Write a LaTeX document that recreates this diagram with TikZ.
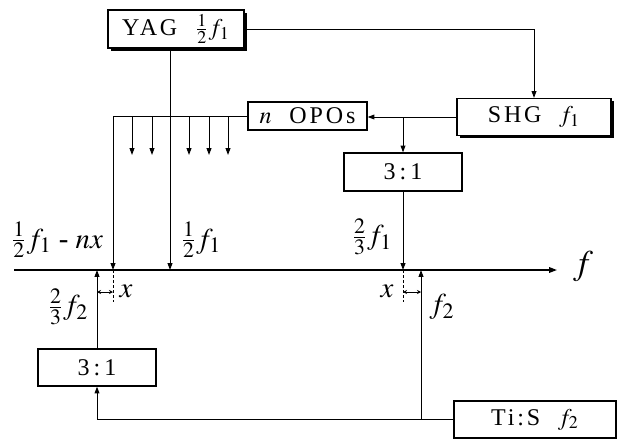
\documentclass[tikz,border=0pt]{standalone}
\usepackage{amsmath}
\usepackage{mathptmx}
\usepackage[no-math]{fontspec}
\setmainfont{Liberation Serif}
\newfontfamily\boxfont[LetterSpace=12]{Liberation Serif}
\usetikzlibrary{shadows, positioning, arrows.meta}
\tikzset{
    unit box/.style = {draw, fill=white, line width=0.6pt, inner sep=0pt, font=\boxfont\large},
    shade box/.style = {unit box, drop shadow={shadow xshift=1.3pt, shadow yshift=-1.3pt, fill=black, opacity=1}},
}
\tikzset{
    beam/.style = {draw, line width=0.5pt, -{Triangle[length=3.4pt, width=2.4pt]}},
    detune/.style = {draw, line width=0.4pt, {Stealth[length=2pt, width=2pt]}-{Stealth[length=2pt, width=2pt]}},
    marker/.style = {draw, line width=0.4pt, dash pattern=on 1.5pt off 1pt},
    label/.style = {font=\Large, inner sep=1pt},
}

\begin{document}
\begin{tikzpicture}[x=0.5pt, y=-0.5pt]
        \useasboundingbox (0,0) rectangle (619,439);
        \node[shade box, minimum width=68pt, minimum height=19pt] (YAG) at (176,29) {YAG\ \ $\tfrac{1}{2}f_1$};
        \node[shade box, minimum width=77pt, minimum height=18.5pt] (SHG) at (534,117) {SHG\ \ $f_1$};
        \node[unit box, minimum width=59.5pt, minimum height=14pt] (OPO) at (307.5,116) {$n$\ \ OPOs};
        \node[unit box, minimum width=59pt, minimum height=19pt] (tripA) at (403,172) {3\,:\,1};
        \node[unit box, minimum width=59pt, minimum height=18.5pt] (tripB) at (97,367.5) {3\,:\,1};
        \node[unit box, minimum width=81pt, minimum height=18.5pt] (TiS) at (535,419.5) {Ti:S\ \ $f_2$};
        \coordinate (axL) at (14,270);
        \coordinate (axR) at (557,270);
        \coordinate (yagfoot) at (170,270);
        \coordinate (opofoot) at (113,270);
        \coordinate (tisfoot) at (421,270);
        \node[font=\LARGE] (faxis) at (583,266) {$f$};
        \draw[line width=0.8pt, -{Triangle[length=4pt, width=2.8pt]}] (axL) -- (axR);
        \draw[beam] (YAG.east) -| (SHG.north);
        \draw[beam] (YAG.south -| yagfoot) -- (yagfoot);
        \draw[beam] (SHG.west) -- (SHG.west -| OPO.east);
        \draw[beam] (SHG.west -| tripA.north) -- (tripA.north);
        \draw[beam] (tripA.south) -- (tripA.south |- axL);
        \draw[beam] (OPO.west) -| (opofoot);
        \foreach \x in {132,152,189,209,228} {
            \coordinate (tap\x) at (\x,155);
            \draw[beam] (tap\x |- OPO.west) -- (tap\x);
        }
        \draw[beam] (TiS.west) -| (tripB.south);
        \draw[beam] (TiS.west -| tisfoot) -- (tisfoot);
        \draw[beam] (tripB.north) -- (tripB.north |- axL);
        \coordinate (gapL) at (0,292);
        \draw[marker] (opofoot) -- ++(0,32);
        \draw[marker] (tripA.south |- axL) -- ++(0,32);
        \draw[detune] (tripB.north |- gapL) -- (opofoot |- gapL);
        \draw[detune] (tripA.south |- gapL) -- (tisfoot |- gapL);
        \node[label] (lblA) at (57,240) {$\tfrac{1}{2}f_1$ - $nx$};
        \node[label] (lblB) at (201,240) {$\tfrac{1}{2}f_1$};
        \node[label] (lblC) at (372,237) {$\tfrac{2}{3}f_1$};
        \node[label] (lblD) at (68,307) {$\tfrac{2}{3}f_2$};
        \node[label] (lblE) at (442,307) {$f_2$};
        \node[label] (lblF) at (126,291) {$x$};
        \node[label] (lblG) at (387,291) {$x$};
    \end{tikzpicture}
\end{document}
